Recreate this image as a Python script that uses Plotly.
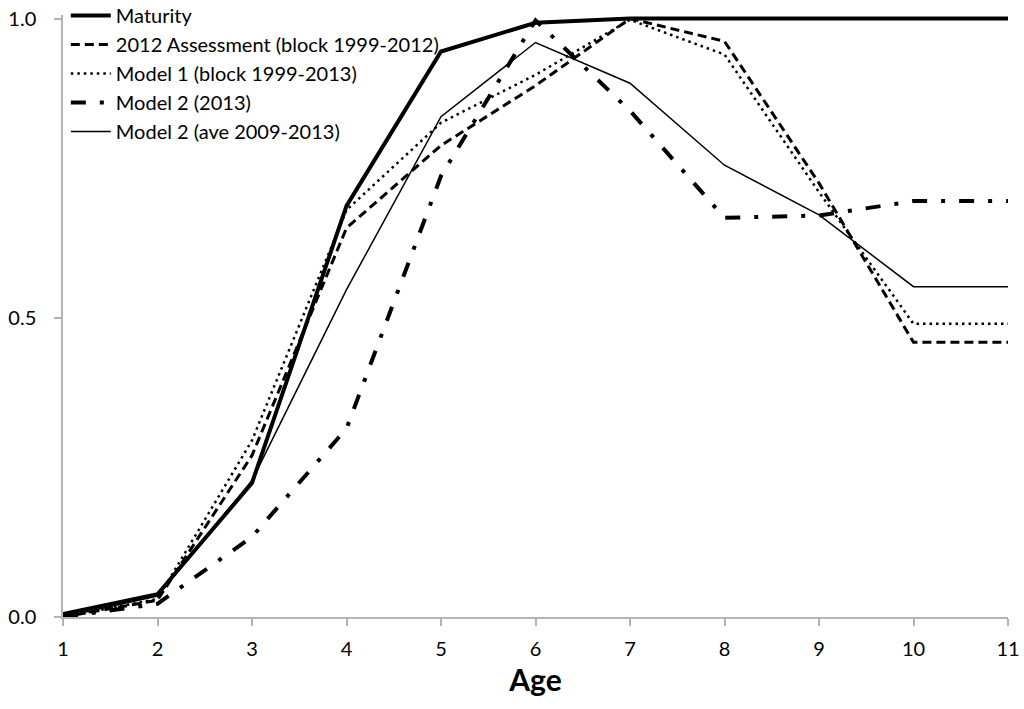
import plotly.graph_objects as go

ages = [1, 2, 3, 4, 5, 6, 7, 8, 9, 10, 11]

maturity = [0.005, 0.038, 0.224, 0.687, 0.945, 0.993, 1.0, 1.0, 1.0, 1.0, 1.0]
assess_2012 = [0.0, 0.028, 0.27, 0.65, 0.788, 0.888, 1.0, 0.962, 0.725, 0.459, 0.459]
model1_block = [0.0, 0.03, 0.295, 0.68, 0.826, 0.906, 0.998, 0.94, 0.71, 0.49, 0.49]
model2_2013 = [0.0, 0.022, 0.134, 0.315, 0.737, 0.997, 0.846, 0.667, 0.671, 0.695, 0.695]
model2_ave = [0.0, 0.035, 0.228, 0.547, 0.836, 0.96, 0.892, 0.755, 0.672, 0.552, 0.552]

names = ["Maturity", "2012 Assessment (block 1999-2012)", "Model 1 (block 1999-2013)",
         "Model 2 (2013)", "Model 2 (ave 2009-2013)"]
series = [maturity, assess_2012, model1_block, model2_2013, model2_ave]
styles = [
    dict(width=4, dash="solid"),
    dict(width=3, dash="9px,5px"),
    dict(width=2.5, dash="2.5px,4px"),
    dict(width=4, dash="15px,14px,4px,14px"),
    dict(width=1.5, dash="solid"),
]

fig = go.Figure()
for i, (n, s, st) in enumerate(zip(names, series, styles)):
    fig.add_trace(go.Scatter(
        x=ages, y=s, name=n, mode="lines", legendgroup=f"g{i}",
        line=dict(color="black", width=st["width"], dash=st["dash"]),
    ))

FONT = "Lato"
axis_col = "#B3B3B3"
fig.update_layout(
    width=1024, height=709,
    margin=dict(l=63, r=16, t=15, b=92, autoexpand=False),
    plot_bgcolor="white", paper_bgcolor="white",
    font=dict(family=FONT, size=20, color="black"),
    showlegend=True,
    legend=dict(x=0.003, xanchor="left", xref="paper", y=1.0316, yanchor="top", yref="paper",
                bgcolor="rgba(0,0,0,0)", font=dict(family=FONT, size=20),
                traceorder="grouped", tracegroupgap=0, itemwidth=40),
    xaxis=dict(range=[1, 11], tickmode="array", tickvals=ages,
               ticktext=[str(a) for a in ages],
               showline=True, linecolor=axis_col, linewidth=1.5,
               ticks="outside", ticklen=7, tickcolor=axis_col, tickwidth=1.5,
               ticklabelstandoff=6,
               showgrid=False, zeroline=False,
               tickfont=dict(family=FONT, size=20),
               title=dict(text="<b>Age</b>", font=dict(family=FONT, size=30), standoff=11)),
    yaxis=dict(range=[0, 1.006], tickmode="array", tickvals=[0, 0.5, 1.0],
               ticktext=["0.0", "0.5", "1.0"],
               showline=True, linecolor=axis_col, linewidth=1.5,
               ticks="outside", ticklen=7, tickcolor=axis_col, tickwidth=1.5,
               ticklabelstandoff=14,
               showgrid=False, zeroline=False,
               tickfont=dict(family=FONT, size=20)),
)

fig.write_html("out.html")
